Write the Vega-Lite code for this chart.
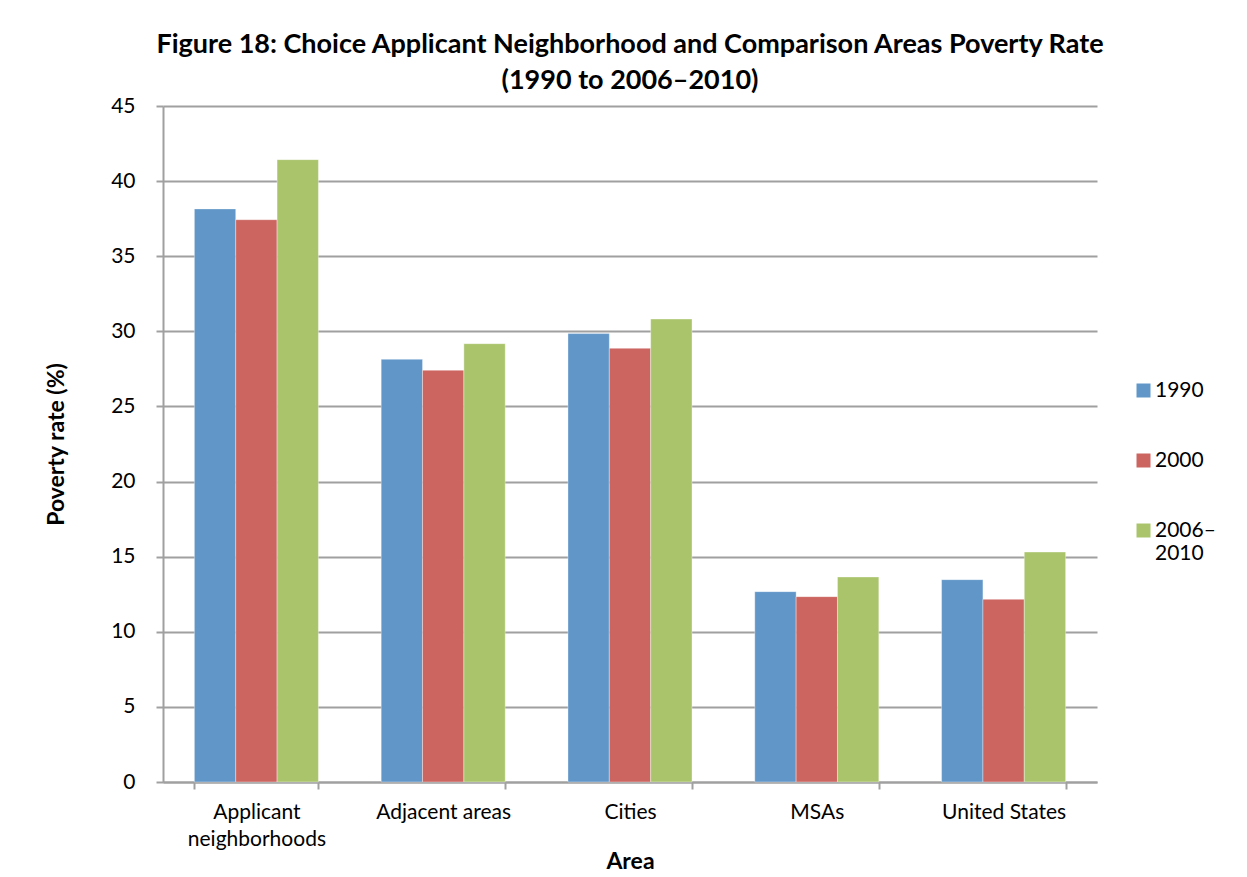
{
  "$schema": "https://vega.github.io/schema/vega-lite/v6.json",
  "width": 934,
  "height": 676,
  "padding": {"left": 45, "top": 31, "right": 0, "bottom": 0},
  "autosize": {"type": "pad"},
  "background": "white",
  "title": {
    "text": ["Figure 18: Choice Applicant Neighborhood and Comparison Areas Poverty Rate", "(1990 to 2006–2010)"],
    "font": "Lato",
    "fontSize": 27,
    "fontWeight": "bold",
    "color": "#000000",
    "lineHeight": 36,
    "offset": 0,
    "anchor": "middle"
  },
  "data": {
    "values": [
      {"area": "Applicant neighborhoods", "year": "1990", "rate": 38.15},
      {"area": "Applicant neighborhoods", "year": "2000", "rate": 37.43},
      {"area": "Applicant neighborhoods", "year": "2006–2010", "rate": 41.43},
      {"area": "Adjacent areas", "year": "1990", "rate": 28.14},
      {"area": "Adjacent areas", "year": "2000", "rate": 27.41},
      {"area": "Adjacent areas", "year": "2006–2010", "rate": 29.18},
      {"area": "Cities", "year": "1990", "rate": 29.85},
      {"area": "Cities", "year": "2000", "rate": 28.87},
      {"area": "Cities", "year": "2006–2010", "rate": 30.82},
      {"area": "MSAs", "year": "1990", "rate": 12.67},
      {"area": "MSAs", "year": "2000", "rate": 12.34},
      {"area": "MSAs", "year": "2006–2010", "rate": 13.65},
      {"area": "United States", "year": "1990", "rate": 13.47},
      {"area": "United States", "year": "2000", "rate": 12.16},
      {"area": "United States", "year": "2006–2010", "rate": 15.31}
    ]
  },
  "mark": {"type": "bar", "stroke": "#ffffff", "strokeWidth": 0.6, "strokeOpacity": 0.6},
  "encoding": {
    "x": {
      "field": "area",
      "type": "nominal",
      "sort": null,
      "scale": {"paddingInner": 0.336, "paddingOuter": 0.168},
      "axis": {
        "title": "Area",
        "titleFont": "Lato",
        "titleFontSize": 23,
        "titleFontWeight": "bold",
        "titleColor": "#000000",
        "titlePadding": 1,
        "labelFont": "Lato",
        "labelFontSize": 21,
        "labelColor": "#000000",
        "labelAngle": 0,
        "labelPadding": 12,
        "labelLineHeight": 27,
        "labelExpr": "datum.label == 'Applicant neighborhoods' ? ['Applicant', 'neighborhoods'] : datum.label",
        "tickBand": "extent",
        "tickSize": 7,
        "tickColor": "#a0a0a0",
        "tickWidth": 2,
        "domainColor": "#a0a0a0",
        "domainWidth": 2,
        "grid": false
      }
    },
    "xOffset": {
      "field": "year",
      "type": "nominal",
      "scale": {"paddingInner": 0, "paddingOuter": 0}
    },
    "y": {
      "field": "rate",
      "type": "quantitative",
      "scale": {"domain": [0, 45], "nice": false},
      "axis": {
        "title": "Poverty rate (%)",
        "titleFont": "Lato",
        "titleFontSize": 23,
        "titleFontWeight": "bold",
        "titleColor": "#000000",
        "titlePadding": 42,
        "values": [0, 5, 10, 15, 20, 25, 30, 35, 40, 45],
        "labelFont": "Lato",
        "labelFontSize": 21,
        "labelColor": "#000000",
        "labelPadding": 21,
        "tickSize": 7,
        "tickColor": "#a0a0a0",
        "tickWidth": 2,
        "domainColor": "#a0a0a0",
        "domainWidth": 2,
        "grid": true,
        "gridColor": "#a0a0a0",
        "gridWidth": 2
      }
    },
    "color": {
      "field": "year",
      "type": "nominal",
      "scale": {"domain": ["1990", "2000", "2006–2010"], "range": ["#6096C8", "#CC6560", "#AAC46C"]},
      "legend": {
        "title": null,
        "orient": "none",
        "legendX": 970,
        "legendY": 274,
        "symbolType": "square",
        "symbolSize": 196,
        "symbolStrokeWidth": 0,
        "labelFont": "Lato",
        "labelFontSize": 21,
        "labelColor": "#000000",
        "labelLineHeight": 28,
        "labelExpr": "datum.label == '2006–2010' ? ['2006–', '2010'] : datum.label",
        "rowPadding": 48,
        "labelOffset": 1,
        "labelBaseline": "middle"
      }
    }
  },
  "config": {
    "view": {"stroke": null},
    "axis": {"labelFlush": false}
  }
}
